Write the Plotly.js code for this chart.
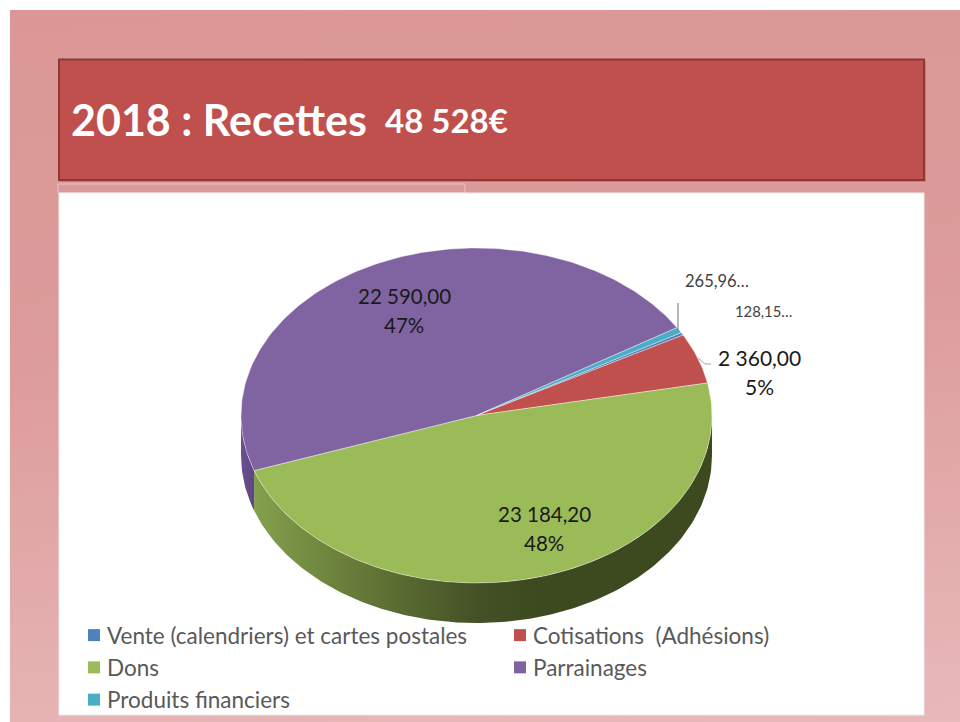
<!DOCTYPE html>
<html>
<head>
<meta charset="utf-8">
<script src="https://cdn.plot.ly/plotly-3.0.1.min.js"></script>
<style>
html,body{margin:0;padding:0;background:#fff;width:960px;height:722px;overflow:hidden}
#bg{position:absolute;left:10px;top:10px;width:950px;height:712px;background:linear-gradient(175deg,#da9795 0%,#dc9c9b 45%,#e8b9b9 100%)}
#chart{position:absolute;left:0;top:0;width:960px;height:722px}
</style>
</head>
<body>
<div id="bg"></div>
<div id="chart"></div>
<script>
// Data
const categories = ["Vente (calendriers) et cartes postales","Cotisations  (Adhésions)","Dons","Parrainages","Produits financiers"];
const values = [128.15, 2360.00, 23184.20, 22590.00, 265.96];
const colors = ["#4f81bd","#c0504d","#9bbb59","#8064a2","#4bacc6"];
const titleYear = "2018 : Recettes";
const titleTotal = "48 528€";

// Pie geometry (pixels of the page, used as axis units)
const cx = 476.5, cy = 415.5, rx = 235.5, ry = 167.5, depth = 40, firstAngle = 60.35;
const total = values.reduce((a, b) => a + b, 0);

function pt(deg){ const r = deg * Math.PI / 180; return [cx + rx * Math.sin(r), cy - ry * Math.cos(r)]; }
function arc(a0, a1){ const out = [], n = Math.max(2, Math.ceil(Math.abs(a1 - a0))); for(let i = 0; i <= n; i++) out.push(pt(a0 + (a1 - a0) * i / n)); return out; }
function fmt(v){ const p = v.toFixed(2).split("."); return p[0].replace(/\B(?=(\d{3})+$)/g, " ") + "," + p[1]; }

const traces = [];
let a = firstAngle;
const spans = values.map(v => { const s = [a, a + v / total * 360]; a = s[1]; return s; });

// Side wall: the visible front half of the rim (90° to 270°); gradient stops run left to right
const wallStyle = {
  2: [[0,"#84a04c"],[0.22,"#667b39"],[0.5,"#434f24"],[0.62,"#3d4a20"],[1,"#3d4a20"]],
  3: [[0,"#6b5190"],[1,"#5d4680"]]
};
spans.forEach((s, i) => {
  const a0 = Math.max(s[0], 90), a1 = Math.min(s[1], 270);
  if(a1 <= a0) return;
  const top = arc(a0, a1), bot = top.slice().reverse().map(p => [p[0], p[1] + depth]);
  const poly = top.concat(bot); poly.push(top[0]);
  traces.push({type:"scatter", mode:"lines", x:poly.map(p => p[0]), y:poly.map(p => p[1]),
    line:{width:0, color:colors[i]}, fill:"toself",
    fillgradient:{type:"horizontal", colorscale:wallStyle[i] || [[0,colors[i]],[1,colors[i]]]},
    hoverinfo:"skip", showlegend:false});
});

// Top face slices
spans.forEach((s, i) => {
  const poly = [[cx, cy]].concat(arc(s[0], s[1])); poly.push([cx, cy]);
  traces.push({type:"scatter", mode:"lines", x:poly.map(p => p[0]), y:poly.map(p => p[1]),
    line:{width:0.7, color:"rgba(255,255,255,0.55)"}, fill:"toself", fillcolor:colors[i],
    name:categories[i], text:fmt(values[i]), hoverinfo:"name+text", hoveron:"fills", showlegend:false});
});

// Legend entries
categories.forEach((c, i) => {
  traces.push({type:"scatter", mode:"markers", x:[null], y:[null], name:c,
    marker:{symbol:"square", size:11, color:colors[i]}, showlegend:true, hoverinfo:"skip"});
});

const pct = v => Math.round(v / total * 100) + "%";
const txt = (text, x, y, size, color) => ({xref:"x", yref:"y", x, y, showarrow:false, align:"center", text,
  font:{family:"Lato, sans-serif", size, color}});
const lab = (i, x, y, size) => [txt(fmt(values[i]), x, y - 14.5, size, "#1a1a1a"), txt(pct(values[i]), x, y + 14.5, size, "#1a1a1a")];
const small = (i, x, y, size) => txt(fmt(values[i]).slice(0, 6) + "…", x, y, size, "#404040");

const layout = {
  width:960, height:722, margin:{l:0, r:0, t:0, b:0, autoexpand:false},
  paper_bgcolor:"rgba(0,0,0,0)", plot_bgcolor:"rgba(0,0,0,0)",
  xaxis:{range:[0,960], visible:false, fixedrange:true},
  yaxis:{range:[722,0], visible:false, fixedrange:true},
  showlegend:true,
  legend:{orientation:"h", x:67/960, y:1-614/722, xanchor:"left", yanchor:"top",
    entrywidth:381, entrywidthmode:"pixels", bgcolor:"rgba(0,0,0,0)", traceorder:"normal",
    font:{family:"Lato, sans-serif", size:22.5, color:"#595959"}, itemsizing:"constant"},
  shapes:[
    {type:"rect", layer:"below", xref:"x", yref:"y", x0:58, x1:465, y0:184, y1:193, line:{color:"#e9c4c3", width:1}, fillcolor:"rgba(0,0,0,0)"},
    {type:"rect", layer:"below", xref:"x", yref:"y", x0:60, x1:926, y0:61, y1:182, line:{width:0}, fillcolor:"rgba(120,50,50,0.25)"},
    {type:"rect", layer:"below", xref:"x", yref:"y", x0:59, x1:924, y0:59.5, y1:180, line:{color:"#8c3836", width:2}, fillcolor:"#bf504d"},
    {type:"rect", layer:"below", xref:"x", yref:"y", x0:59, x1:924, y0:193, y1:715, line:{color:"#ececec", width:1}, fillcolor:"#ffffff"},
    {type:"line", xref:"x", yref:"y", x0:678, x1:678, y0:303, y1:331, line:{color:"#6f6f6f", width:1}},
    {type:"path", xref:"x", yref:"y", path:"M 698 358 L 705 364 L 711 364", line:{color:"#a6a6a6", width:1}}
  ],
  annotations:[
    {xref:"x", yref:"y", x:69, y:119, xanchor:"left", showarrow:false, text:"<b>" + titleYear + "</b>",
      font:{family:"Lato, sans-serif", size:43, color:"#ffffff"}},
    {xref:"x", yref:"y", x:383, y:120, xanchor:"left", showarrow:false, text:"<b>" + titleTotal + "</b>",
      font:{family:"Lato, sans-serif", size:33, color:"#ffffff"}},
    ...lab(3, 404, 310, 20.5),
    ...lab(2, 544, 528, 20.5),
    ...lab(1, 759.5, 372, 21),
    small(4, 717, 281, 16.5),
    small(0, 763, 311, 14.8)
  ]
};
Plotly.newPlot("chart", traces, layout, {displayModeBar:false}).then(gd => {
  // Legend swatches sit closer to their text in the reference
  gd.querySelectorAll(".legendsymbols").forEach(g => g.setAttribute("transform", "translate(7,0)"));
});
</script>
</body>
</html>
